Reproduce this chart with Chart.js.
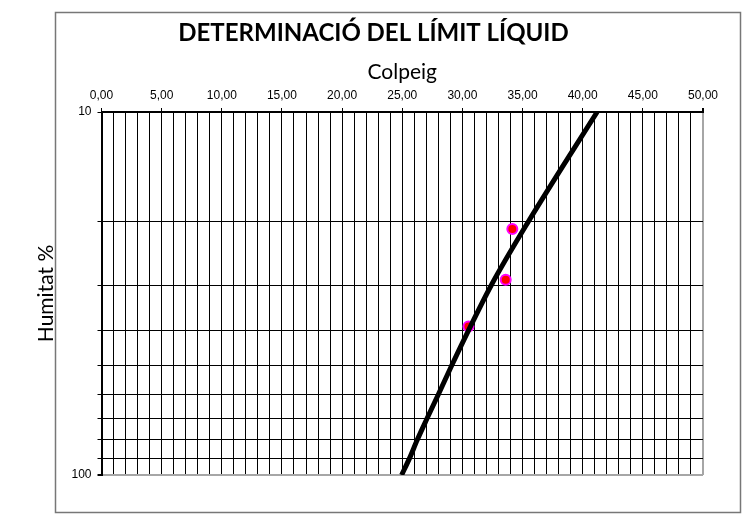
<!DOCTYPE html>
<html>
<head>
<meta charset="utf-8">
<script src="https://cdn.jsdelivr.net/npm/chart.js@4"></script>
<style>
    body { margin: 0; background: #fff; }
    canvas { display: block; }
</style>
</head>
<body>
<canvas id="limitChart" width="747" height="517"></canvas>
<script>
// Mesures de laboratori (colps, humitat %)
const colpeigMesura = [34.15, 33.6, 30.5];
const humitatMesura = [21.0, 29.0, 39.0];

// Recta de flux llegida a cada línia de la quadrícula
const rectaHumitat = [10, 20, 30, 40, 50, 60, 70, 80, 90, 100];
const rectaColpeig = [41.2, 35.5, 32.4, 30.5, 29.1, 28.0, 27.05, 26.25, 25.6, 24.95];

// Línies horitzontals de l'eix logarítmic
const marquesHumitat = [10, 20, 30, 40, 50, 60, 70, 80, 90, 100];
const etiquetesHumitat = [10, 100];

// Marc exterior del gràfic
const marcExterior = {
    id: 'marcExterior',
    beforeDraw(chart) {
        const ctx = chart.ctx;
        ctx.save();
        ctx.strokeStyle = '#777';
        ctx.lineWidth = 1.5;
        ctx.strokeRect(55.5, 12.5, 685, 500);
        ctx.restore();
    }
};

const ctx = document.getElementById('limitChart').getContext('2d');

new Chart(ctx, {
    type: 'scatter',
    data: {
        datasets: [
            {
                label: 'Recta',
                data: rectaColpeig.map((x, i) => ({ x: x, y: rectaHumitat[i] })),
                showLine: true,
                borderColor: '#000',
                borderWidth: 5,
                pointRadius: 0,
                cubicInterpolationMode: 'monotone',
            },
            {
                label: 'Mesures',
                data: colpeigMesura.map((x, i) => ({ x: x, y: humitatMesura[i] })),
                pointRadius: 5,
                pointBorderWidth: 2,
                pointBackgroundColor: '#ff0000',
                pointBorderColor: '#ff00ff',
            }
        ]
    },
    options: {
        responsive: false,
        animation: false,
        layout: {
            padding: { left: 44, top: 12, right: 44, bottom: 42 }
        },
        plugins: {
            legend: { display: false },
            tooltip: { enabled: false },
            title: {
                display: true,
                text: 'DETERMINACIÓ DEL LÍMIT LÍQUID',
                color: '#000',
                font: { family: 'Lato', size: 24, weight: 'bold' },
                padding: { top: 7, bottom: 8 }
            }
        },
        scales: {
            x: {
                type: 'linear',
                position: 'top',
                min: 0,
                max: 50,
                afterFit: (scale) => { scale.height = 56.2; },
                title: {
                    display: true,
                    text: 'Colpeig',
                    color: '#000',
                    font: { family: 'Lato', size: 21 },
                    padding: { top: 3.6, bottom: 0 }
                },
                ticks: {
                    stepSize: 1,
                    autoSkip: false,
                    maxRotation: 0,
                    padding: 5,
                    color: '#000',
                    font: { family: 'Liberation Sans', size: 12 },
                    callback: (v) => v % 5 === 0 ? v.toFixed(2).replace('.', ',') : ''
                },
                grid: {
                    color: (c) => c.tick && c.tick.value === 50 ? '#a6a6a6' : '#000',
                    lineWidth: (c) => c.tick && c.tick.value === 50 ? 2 : 1,
                    tickLength: 4,
                    tickColor: (c) => c.tick && c.tick.value % 5 === 0 ? '#000' : 'rgba(0,0,0,0)'
                },
                border: { color: '#000', width: 2 }
            },
            y: {
                type: 'logarithmic',
                reverse: true,
                min: 10,
                max: 100,
                afterFit: (scale) => { scale.width = 57.5; },
                afterBuildTicks: (scale) => {
                    scale.ticks = marquesHumitat.map(v => ({ value: v }));
                },
                title: {
                    display: true,
                    text: 'Humitat %',
                    color: '#000',
                    font: { family: 'Lato', size: 21 },
                    padding: { top: -10.6, bottom: 0 }
                },
                ticks: {
                    autoSkip: false,
                    padding: 6,
                    color: '#000',
                    font: { family: 'Liberation Sans', size: 12 },
                    callback: (v) => etiquetesHumitat.includes(v) ? String(v) : ''
                },
                grid: {
                    color: (c) => c.tick && c.tick.value === 100 ? '#a6a6a6' : '#000',
                    lineWidth: (c) => c.tick && c.tick.value === 100 ? 2 : 1,
                    tickLength: 4,
                    tickColor: '#000'
                },
                border: { color: '#000', width: 2 }
            }
        }
    },
    plugins: [marcExterior]
});
</script>
</body>
</html>
